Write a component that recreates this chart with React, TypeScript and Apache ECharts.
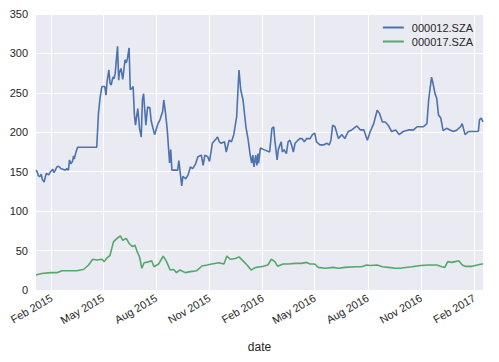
import React, { useEffect, useRef } from "react";
import * as echarts from "echarts";

const seriesNames = ["000012.SZA", "000017.SZA"];

const blueDates = [
  "2015-01-05","2015-01-07","2015-01-09","2015-01-12","2015-01-14","2015-01-16","2015-01-19","2015-01-21","2015-01-23","2015-01-27",
  "2015-01-30","2015-02-03","2015-02-05","2015-02-06","2015-02-10","2015-02-13","2015-02-17","2015-02-25","2015-02-27","2015-03-02",
  "2015-03-04","2015-03-06","2015-03-09","2015-03-11","2015-03-12","2015-03-16","2015-03-18","2015-04-20","2015-04-23","2015-04-26",
  "2015-04-29","2015-05-04","2015-05-06","2015-05-08","2015-05-11","2015-05-13","2015-05-15","2015-05-18","2015-05-20","2015-05-22",
  "2015-05-26","2015-05-28","2015-05-29","2015-06-01","2015-06-04","2015-06-08","2015-06-10","2015-06-12","2015-06-15","2015-06-17",
  "2015-06-19","2015-06-22","2015-06-24","2015-06-26","2015-06-30","2015-07-02","2015-07-03","2015-07-06","2015-07-08","2015-07-10",
  "2015-07-14","2015-07-16","2015-07-17","2015-07-21","2015-07-23","2015-07-27","2015-07-29","2015-08-04","2015-08-07","2015-08-10",
  "2015-08-12","2015-08-14","2015-08-17","2015-08-20","2015-08-24","2015-08-26","2015-08-28","2015-09-07","2015-09-09","2015-09-14",
  "2015-09-16","2015-09-21","2015-09-25","2015-09-29","2015-10-03","2015-10-08","2015-10-12","2015-10-18","2015-10-21","2015-10-24",
  "2015-10-29","2015-11-01","2015-11-06","2015-11-13","2015-11-15","2015-11-18","2015-11-21","2015-11-27","2015-11-30","2015-12-05",
  "2015-12-09","2015-12-13","2015-12-18","2015-12-22","2015-12-25","2015-12-29","2016-01-03","2016-01-07","2016-01-10","2016-01-13",
  "2016-01-15","2016-01-17","2016-01-20","2016-01-22","2016-01-24","2016-01-25","2016-01-28","2016-02-03","2016-02-13","2016-02-17",
  "2016-02-20","2016-02-22","2016-02-26","2016-02-28","2016-03-04","2016-03-06","2016-03-09","2016-03-13","2016-03-16","2016-03-19",
  "2016-03-22","2016-03-25","2016-03-28","2016-04-02","2016-04-05","2016-04-09","2016-04-13","2016-04-17","2016-04-23","2016-04-27",
  "2016-05-01","2016-05-04","2016-05-10","2016-05-16","2016-05-22","2016-05-26","2016-05-29","2016-06-01","2016-06-05","2016-06-11",
  "2016-06-17","2016-06-22","2016-06-28","2016-07-04","2016-07-13","2016-07-19","2016-07-25","2016-07-31","2016-08-05","2016-08-11",
  "2016-08-17","2016-08-21","2016-08-26","2016-08-31","2016-09-05","2016-09-11","2016-09-18","2016-09-24","2016-10-01","2016-10-10",
  "2016-10-19","2016-10-25","2016-10-31","2016-11-05","2016-11-11","2016-11-14","2016-11-19","2016-11-21","2016-11-25","2016-11-28",
  "2016-12-01","2016-12-05","2016-12-09","2016-12-15","2016-12-21","2016-12-27","2017-01-02","2017-01-08","2017-01-11","2017-01-16",
  "2017-01-22","2017-01-31","2017-02-08","2017-02-10","2017-02-13","2017-02-16"
];
const blueValues = [
  152,150,145,144,147,140,137,143,148,146,
  150,153,149,150,156,157,154,152,154,152,
  165,160,163,170,166,177,181,181,224,245,
  258,258,247,265,279,262,260,270,268,275,
  309,266,275,281,267,292,288,293,307,254,
  255,258,224,209,230,215,205,194,241,249,
  209,225,232,231,215,203,197,211,215,222,
  226,241,224,203,161,178,152,152,164,132,
  144,141,146,156,154,160,169,171,158,171,
  169,163,186,192,194,188,186,188,175,190,
  188,197,220,279,254,241,207,190,173,161,
  171,156,171,158,173,161,180,178,175,205,
  207,190,165,178,188,175,178,173,188,190,
  184,175,186,190,192,192,188,192,192,197,
  199,188,184,184,186,184,190,209,207,192,
  197,192,201,203,208,203,203,190,201,211,
  228,224,213,213,209,201,203,197,201,203,
  203,207,207,207,211,241,270,264,249,243,
  222,218,202,205,203,201,203,207,211,197,
  201,201,201,216,218,213
];

const greenDates = [
  "2015-01-05","2015-01-15","2015-01-30","2015-02-10","2015-02-19","2015-03-05","2015-03-16","2015-03-28","2015-04-06","2015-04-13",
  "2015-04-20","2015-04-29","2015-05-03","2015-05-07","2015-05-13","2015-05-19","2015-05-25","2015-05-31","2015-06-04","2015-06-10",
  "2015-06-15","2015-06-21","2015-06-25","2015-06-29","2015-07-03","2015-07-07","2015-07-11","2015-07-19","2015-07-24","2015-07-28",
  "2015-08-05","2015-08-13","2015-08-19","2015-08-25","2015-08-31","2015-09-05","2015-09-11","2015-09-20","2015-09-29","2015-10-10",
  "2015-10-19","2015-10-28","2015-11-05","2015-11-17","2015-11-26","2015-12-01","2015-12-07","2015-12-16","2015-12-22","2015-12-29",
  "2016-01-05","2016-01-12","2016-01-20","2016-01-28","2016-02-02","2016-02-10","2016-02-16","2016-02-22","2016-02-27","2016-03-07",
  "2016-03-16","2016-03-28","2016-04-08","2016-04-17","2016-04-23","2016-05-01","2016-05-07","2016-05-19","2016-06-02","2016-06-11",
  "2016-06-22","2016-07-10","2016-07-21","2016-07-30","2016-08-05","2016-08-17","2016-08-26","2016-09-05","2016-09-17","2016-09-28",
  "2016-10-16","2016-10-31","2016-11-14","2016-11-28","2016-12-07","2016-12-12","2016-12-17","2016-12-24","2016-12-30","2017-01-05",
  "2017-01-11","2017-01-16","2017-01-28","2017-02-06","2017-02-14","2017-02-16"
];
const greenValues = [
  19,21,22,22,24.5,24.5,24.5,26,31.7,39,
  38,39,36,40,44,61,65.5,68.5,63,65.5,
  59,55,57,48.6,42,27.5,34.6,35.7,37,29.5,
  33,43,35.7,25.4,26,22,25.4,22,23.3,24.5,
  30.4,31.7,33,34.6,33,43,39,40,42,37,
  31.7,25.4,28.7,29.5,30,31.7,39,36,30,33,
  33,33.8,33.8,35,33,33,28.7,27.5,28.7,27.5,
  28.7,29.5,29.5,31.7,31,31.7,29.5,28.7,27.5,27.8,
  29.5,31,31.7,31.7,29.5,28.7,36,35,36,37,
  31.7,30,30,31.7,33,33
];

const xTickDates = [
  "2015-02-01","2015-05-01","2015-08-01","2015-11-01","2016-02-01",
  "2016-05-01","2016-08-01","2016-11-01","2017-02-01"
];
const monthNames = ["Jan","Feb","Mar","Apr","May","Jun","Jul","Aug","Sep","Oct","Nov","Dec"];
const xMin = "2015-01-05";
const xMax = "2017-02-16";

function ts(s: string): number {
  const [y, m, d] = s.split("-").map(Number);
  return Date.UTC(y, m - 1, d);
}

export default function App() {
  const ref = useRef<HTMLDivElement>(null);
  useEffect(() => {
    if (!ref.current) return;
    const chart = echarts.init(ref.current, undefined, { renderer: "svg" });
    const font = "'Liberation Sans', Arial, sans-serif";
    const textColor = "#262626";
    const ticks = xTickDates.map(ts);
    chart.setOption({
      animation: false,
      backgroundColor: "#ffffff",
      textStyle: { fontFamily: font },
      grid: { left: 36, right: 16, top: 14, bottom: 72, backgroundColor: "#EAEAF2", show: true, borderWidth: 0 },
      legend: {
        orient: "vertical",
        right: 21,
        top: 16,
        icon: "rect",
        itemWidth: 21,
        itemHeight: 2,
        itemGap: 1,
        textStyle: { fontSize: 11, color: textColor, fontFamily: font, padding: [0, 0, 0, 3], lineHeight: 13 },
        data: seriesNames,
      },
      xAxis: {
        type: "value",
        min: ts(xMin),
        max: ts(xMax),
        name: "date",
        nameLocation: "middle",
        nameGap: 51,
        nameTextStyle: { fontSize: 12, color: textColor, fontFamily: font },
        axisLine: { show: false },
        axisTick: { show: false, customValues: ticks },
        axisLabel: {
          customValues: ticks,
          rotate: 30,
          margin: 7,
          fontSize: 11,
          color: textColor,
          fontFamily: font,
          formatter: (v: number) => {
            const d = new Date(v);
            return monthNames[d.getUTCMonth()] + " " + d.getUTCFullYear();
          },
        },
        splitLine: { show: true, lineStyle: { color: "#ffffff", width: 1 } },
      },
      yAxis: {
        type: "value",
        min: 0,
        max: 350,
        interval: 50,
        axisLine: { show: false },
        axisTick: { show: false },
        axisLabel: { fontSize: 11, color: textColor, margin: 8, fontFamily: font },
        splitLine: { show: true, lineStyle: { color: "#ffffff", width: 1 } },
      },
      series: [
        {
          name: seriesNames[0],
          type: "line",
          symbol: "none",
          data: blueDates.map((d, i) => [ts(d), blueValues[i]]),
          lineStyle: { color: "#4C72B0", width: 1.6 },
          itemStyle: { color: "#4C72B0" },
        },
        {
          name: seriesNames[1],
          type: "line",
          symbol: "none",
          data: greenDates.map((d, i) => [ts(d), greenValues[i]]),
          lineStyle: { color: "#55A868", width: 1.6 },
          itemStyle: { color: "#55A868" },
        },
      ],
    });
    return () => chart.dispose();
  }, []);
  return <div ref={ref} style={{ width: 499, height: 362, position: "absolute", left: 0, top: 0 }} />;
}
